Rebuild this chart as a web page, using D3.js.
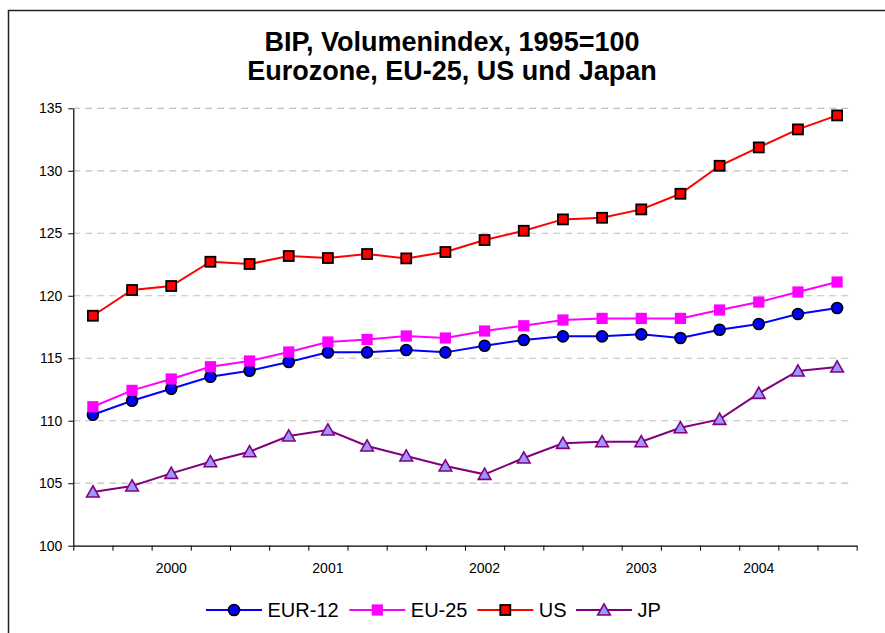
<!DOCTYPE html>
<html><head><meta charset="utf-8">
<script src="https://cdn.jsdelivr.net/npm/d3@7"></script>
<style>body{margin:0;background:#fff}svg{display:block;font-family:"Liberation Sans",Arial,sans-serif}</style>
</head><body><svg id="c" width="885" height="633"></svg>
<script>
const periods = d3.range(20);
const yearLabels = ["", "", "2000", "", "", "", "2001", "", "", "", "2002", "", "", "", "2003", "", "", "2004", "", ""];
const yTicks = [100, 105, 110, 115, 120, 125, 130, 135];
const eur12 = [110.48, 111.6, 112.56, 113.52, 114.0, 114.7, 115.47, 115.47, 115.66, 115.47, 116.0, 116.46, 116.75, 116.75, 116.91, 116.62, 117.28, 117.74, 118.54, 119.02];
const eu25 = [111.12, 112.43, 113.34, 114.32, 114.78, 115.5, 116.3, 116.5, 116.78, 116.62, 117.18, 117.6, 118.06, 118.19, 118.19, 118.19, 118.86, 119.5, 120.3, 121.1];
const us = [118.4, 120.46, 120.78, 122.72, 122.54, 123.18, 123.02, 123.34, 122.99, 123.5, 124.46, 125.2, 126.11, 126.24, 126.91, 128.16, 130.4, 131.87, 133.31, 134.43];
const jp = [104.3, 104.78, 105.79, 106.72, 107.52, 108.78, 109.26, 107.98, 107.18, 106.38, 105.71, 107.02, 108.19, 108.32, 108.32, 109.44, 110.11, 112.19, 113.98, 114.3];
const seriesNames = ["EUR-12", "EU-25", "US", "JP"];

const series = [
  {name: seriesNames[0], values: eur12, line: "#0000ff", marker: "circle", fill: "#0000ff", stroke: "#000"},
  {name: seriesNames[1], values: eu25, line: "#ff00ff", marker: "square", fill: "#ff00ff", stroke: "none"},
  {name: seriesNames[2], values: us, line: "#ff0000", marker: "square", fill: "#ff0000", stroke: "#000"},
  {name: seriesNames[3], values: jp, line: "#800080", marker: "triangle", fill: "#9999ff", stroke: "#800080"}
];

const svg = d3.select("#c");
const L = 73.3, R = 856.7, T = 108.3, B = 545.7;

// outer border
svg.append("rect").attr("x", 8.5).attr("y", 10.5).attr("width", 900).attr("height", 700)
  .attr("fill", "none").attr("stroke", "#222").attr("stroke-width", 1.5);

// title
const title = svg.append("text").attr("text-anchor", "middle").attr("font-weight", "bold").attr("font-size", 27).attr("fill", "#000");
title.append("tspan").attr("x", 452).attr("y", 51).text("BIP, Volumenindex, 1995=100");
title.append("tspan").attr("x", 452).attr("y", 80).text("Eurozone, EU-25, US und Japan");

const x = d3.scaleBand().domain(periods).range([L, R]).padding(0);
const xEdge = d3.scaleLinear().domain([0, periods.length]).range([L, R]);
const y = d3.scaleLinear().domain([100, 135]).range([B, T]);
const cx = i => x(i) + x.bandwidth() / 2;

// gridlines
svg.append("g").selectAll("line").data(yTicks.filter(v => v !== 100)).join("line")
  .attr("x1", L).attr("x2", R - 5).attr("y1", d => y(d)).attr("y2", d => y(d))
  .attr("stroke", "#c0c0c0").attr("stroke-width", 1.2).attr("stroke-dasharray", "7,5");

// y axis
const ya = svg.append("g").attr("transform", `translate(${L},0)`)
  .call(d3.axisLeft(y).tickValues(yTicks).tickSize(5).tickPadding(6).tickSizeOuter(0));
ya.select(".domain").attr("stroke", "#000").attr("stroke-width", 1.2);
ya.selectAll(".tick line").attr("stroke", "#000");
ya.selectAll("text").attr("font-size", 14).attr("font-family", "Liberation Sans, Arial, sans-serif").attr("fill", "#000");

// x axis ticks at category boundaries
const xa = svg.append("g").attr("transform", `translate(0,${B})`)
  .call(d3.axisBottom(xEdge).tickValues(d3.range(periods.length + 1)).tickSize(5).tickFormat("").tickSizeOuter(0));
xa.select(".domain").attr("stroke", "#000").attr("stroke-width", 1.2);
xa.selectAll(".tick line").attr("stroke", "#000");

// x labels
const xl = svg.append("g").attr("transform", `translate(0,${B})`)
  .call(d3.axisBottom(x).tickSize(0).tickPadding(17.4).tickFormat(i => yearLabels[i]));
xl.select(".domain").remove();
xl.selectAll("text").attr("font-size", 14).attr("font-family", "Liberation Sans, Arial, sans-serif").attr("fill", "#000");

function drawMarker(g, s, px, py) {
  if (s.marker === "circle") {
    g.append("circle").attr("cx", px).attr("cy", py).attr("r", 5.5)
      .attr("fill", s.fill).attr("stroke", s.stroke).attr("stroke-width", 1.6);
  } else if (s.marker === "square") {
    const h = s.stroke === "none" ? 5.6 : 5;
    g.append("rect").attr("x", px - h).attr("y", py - h).attr("width", 2 * h).attr("height", 2 * h)
      .attr("fill", s.fill).attr("stroke", s.stroke).attr("stroke-width", 1.8);
  } else {
    g.append("path").attr("d", `M${px},${py - 6.2}L${px + 6.3},${py + 5}L${px - 6.3},${py + 5}Z`)
      .attr("fill", s.fill).attr("stroke", s.stroke).attr("stroke-width", 1.6).attr("stroke-linejoin", "miter");
  }
}

const line = d3.line().x((d, i) => cx(i)).y(d => y(d));
series.forEach(s => {
  const g = svg.append("g");
  g.append("path").attr("d", line(s.values)).attr("fill", "none").attr("stroke", s.line).attr("stroke-width", 2);
  s.values.forEach((v, i) => drawMarker(g, s, cx(i), y(v)));
});

// legend
const legX = [206, 349.3, 477.3, 576];
const legY = 610;
series.forEach((s, k) => {
  const g = svg.append("g");
  const x0 = legX[k];
  g.append("line").attr("x1", x0).attr("x2", x0 + 56).attr("y1", legY).attr("y2", legY)
    .attr("stroke", s.line).attr("stroke-width", 2);
  drawMarker(g, s, x0 + 28, legY);
  g.append("text").attr("x", x0 + 61.5).attr("y", legY + 7).attr("font-size", 20).attr("fill", "#000").text(s.name);
});
</script></body></html>
